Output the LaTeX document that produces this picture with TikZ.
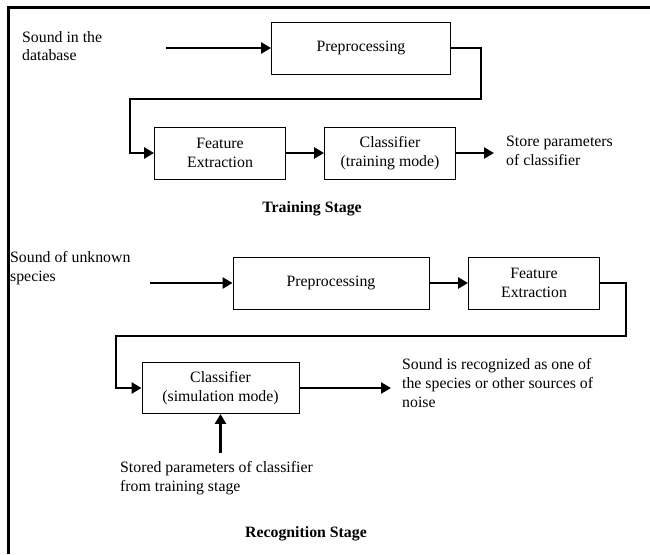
\documentclass[tikz,border=0pt]{standalone}
\usepackage{fontspec}
\setmainfont{Liberation Serif}
\usetikzlibrary{arrows.meta}
\tikzset{
  stagebox/.style={draw, line width=0.9pt, minimum height=52pt, inner sep=2pt, align=center},
  flow/.style={line width=2.8pt, -{Triangle[length=10pt,width=11pt]}},
  note/.style={anchor=west, align=left, inner sep=0pt}
}
\begin{document}
\begin{tikzpicture}[x=1pt, y=-1pt, font=\fontsize{15.8}{18.8}\selectfont]
        \useasboundingbox (0,0) rectangle (650,554);
        % Frame on top and left
        \draw[line width=3pt] (8,554) -- (8,7) -- (650,7);

        % Training stage blocks
        \node[stagebox, minimum width=179pt] (pre1) at (361,48) {Preprocessing};
        \node[stagebox, minimum width=131pt] (feat1) at (220,153) {Feature\\Extraction};
        \node[stagebox, minimum width=131pt] (cls1) at (390,153) {Classifier\\(training mode)};

        % Training texts
        \node[note] (src1) at (22,46) {Sound in the\\database};
        \node[note] (store) at (506,151) {Store parameters\\of classifier};
        \node[font=\fontsize{15.8}{18.8}\selectfont\bfseries] (title1) at (312,209) {Training Stage};

        % Training connectors
        \coordinate (in1) at (166,48);
        \coordinate (bendA) at (481,99);
        \coordinate (bendB) at (130,99);
        \coordinate (out1) at (494,153);
        \draw[flow] (in1) -- (pre1.west);
        \draw[flow] (pre1.east) -| (bendA) -- (bendB) |- (feat1.west);
        \draw[flow] (feat1.east) -- (cls1.west);
        \draw[flow] (cls1.east) -- (out1);

        % Recognition stage blocks
        \node[stagebox, minimum width=196pt] (pre2) at (331,283) {Preprocessing};
        \node[stagebox, minimum width=131pt] (feat2) at (534,283) {Feature\\Extraction};
        \node[stagebox, minimum width=157pt, minimum height=51pt] (cls2) at (220.5,388) {Classifier\\(simulation mode)};

        % Recognition texts
        \node[note] (src2) at (10,268.5) {Sound of unknown\\species};
        \node[note] (result) at (402,383) {Sound is recognized as one of\\the species or other sources of\\noise};
        \node[note] (stored) at (120,478.5) {Stored parameters of classifier\\from training stage};
        \node[font=\fontsize{15.8}{18.8}\selectfont\bfseries] (title2) at (306,534) {Recognition Stage};

        % Recognition connectors
        \coordinate (in2) at (150,283);
        \coordinate (bendC) at (626,336);
        \coordinate (bendD) at (116,336);
        \coordinate (out2) at (391,388);
        \coordinate (up1) at (220.5,453);
        \draw[flow] (in2) -- (pre2.west);
        \draw[flow] (pre2.east) -- (feat2.west);
        \draw[flow] (feat2.east) -| (bendC) -- (bendD) |- (cls2.west);
        \draw[flow] (cls2.east) -- (out2);
        \draw[flow] (up1) -- (cls2.south);
\end{tikzpicture}
\end{document}
